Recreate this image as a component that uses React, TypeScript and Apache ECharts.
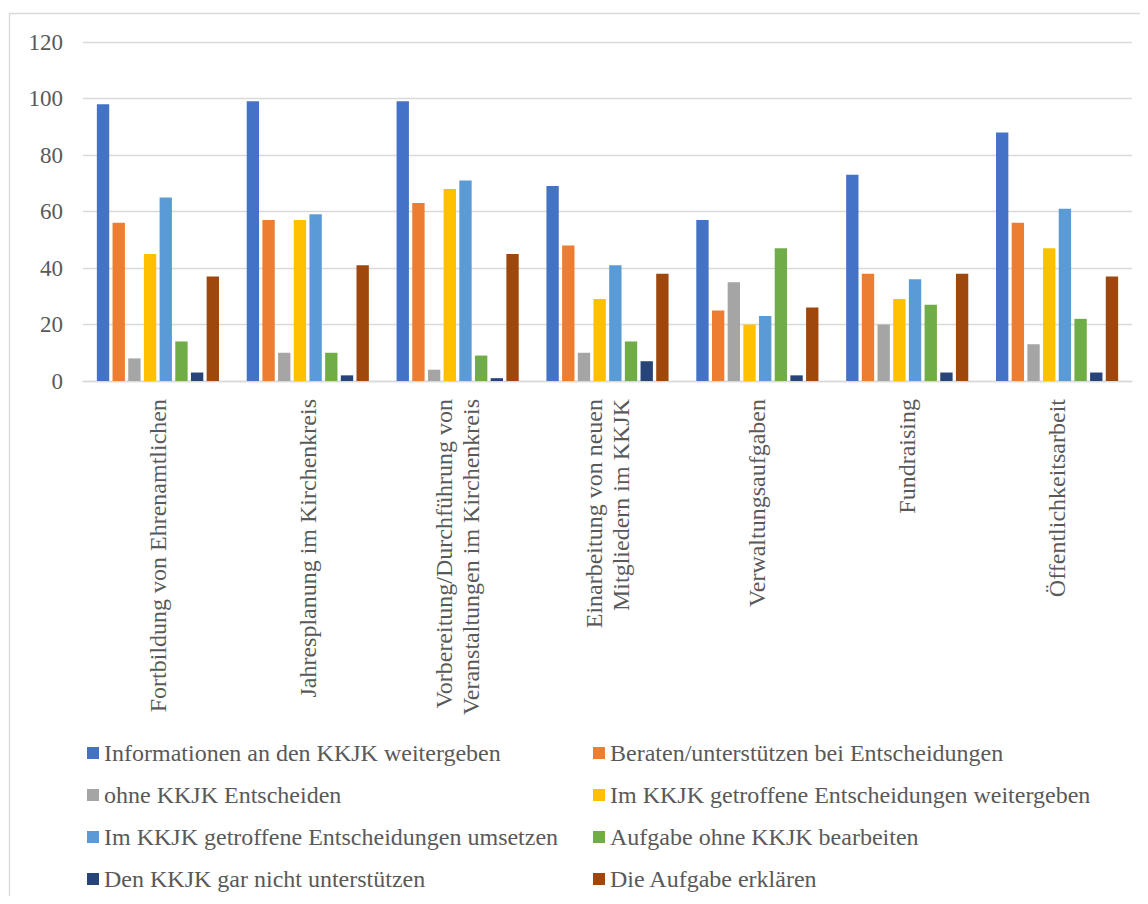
import React, { useEffect, useRef } from "react";
import * as echarts from "echarts";

// Task categories shown along the x axis
const categories: string[] = [
  "Fortbildung von Ehrenamtlichen",
  "Jahresplanung im Kirchenkreis",
  "Vorbereitung/Durchführung von\nVeranstaltungen im Kirchenkreis",
  "Einarbeitung von neuen\nMitgliedern im KKJK",
  "Verwaltungsaufgaben",
  "Fundraising",
  "Öffentlichkeitsarbeit",
];

// Series names (legend order)
const seriesNames: string[] = [
  "Informationen an den KKJK weitergeben",
  "Beraten/unterstützen bei Entscheidungen",
  "ohne KKJK Entscheiden",
  "Im KKJK getroffene Entscheidungen weitergeben",
  "Im KKJK getroffene Entscheidungen umsetzen",
  "Aufgabe ohne KKJK bearbeiten",
  "Den KKJK gar nicht unterstützen",
  "Die Aufgabe erklären",
];

// Values per series, one entry per category
const informationen: number[] = [98, 99, 99, 69, 57, 73, 88];
const beraten: number[] = [56, 57, 63, 48, 25, 38, 56];
const ohneEntscheiden: number[] = [8, 10, 4, 10, 35, 20, 13];
const weitergeben: number[] = [45, 57, 68, 29, 20, 29, 47];
const umsetzen: number[] = [65, 59, 71, 41, 23, 36, 61];
const ohneBearbeiten: number[] = [14, 10, 9, 14, 47, 27, 22];
const garNicht: number[] = [3, 2, 1, 7, 2, 3, 3];
const erklaeren: number[] = [37, 41, 45, 38, 26, 38, 37];

const seriesValues: number[][] = [
  informationen,
  beraten,
  ohneEntscheiden,
  weitergeben,
  umsetzen,
  ohneBearbeiten,
  garNicht,
  erklaeren,
];

// Y axis range
const yMin = 0;
const yMax = 120;
const yStep = 20;

const colors = [
  "#4472C4",
  "#ED7D31",
  "#A5A5A5",
  "#FFC000",
  "#5B9BD5",
  "#70AD47",
  "#264478",
  "#9E480E",
];

const FONT = "'Liberation Serif', 'Times New Roman', serif";
const TEXT_COLOR = "#595959";
const GRID_COLOR = "#d9d9d9";

export default function App() {
  const ref = useRef<HTMLDivElement>(null);

  useEffect(() => {
    if (!ref.current) return;
    const chart = echarts.init(ref.current, undefined, { renderer: "svg" });

    const legendText = {
      fontFamily: FONT,
      fontSize: 24,
      color: TEXT_COLOR,
      lineHeight: 24,
    };

    const legendCommon = {
      orient: "vertical",
      top: 733,
      height: 200,
      padding: 0,
      itemWidth: 12,
      itemHeight: 12,
      itemGap: 18,
      icon: "rect",
      textStyle: legendText,
    };

    chart.setOption({
      animation: false,
      color: colors,
      textStyle: { fontFamily: FONT },
      graphic: [
        {
          type: "rect",
          shape: { x: 1.5, y: 5.5, width: 2000, height: 2000 },
          style: { fill: "none", stroke: GRID_COLOR, lineWidth: 1.3 },
          silent: true,
        },
      ],
      grid: {
        left: 75,
        top: 34,
        width: 1049,
        height: 339,
        containLabel: false,
      },
      legend: [
        {
          ...legendCommon,
          left: 79,
          data: [seriesNames[0], seriesNames[2], seriesNames[4], seriesNames[6]],
        },
        {
          ...legendCommon,
          left: 585,
          data: [seriesNames[1], seriesNames[3], seriesNames[5], seriesNames[7]],
        },
      ],
      xAxis: {
        type: "category",
        data: categories,
        axisLine: { show: true, lineStyle: { color: GRID_COLOR, width: 1.3 } },
        axisTick: { show: false },
        axisLabel: {
          interval: 0,
          rotate: 90,
          margin: 18,
          fontFamily: FONT,
          fontSize: 24,
          lineHeight: 27,
          color: TEXT_COLOR,
        },
      },
      yAxis: {
        type: "value",
        min: yMin,
        max: yMax,
        interval: yStep,
        axisLine: { show: false },
        axisTick: { show: false },
        splitLine: { lineStyle: { color: GRID_COLOR, width: 1.3 } },
        axisLabel: {
          margin: 20,
          fontFamily: FONT,
          fontSize: 23,
          color: TEXT_COLOR,
        },
      },
      series: seriesNames.map((name, i) => ({
        name,
        type: "bar",
        data: seriesValues[i],
        barGap: "27%",
        barCategoryGap: "18.5%",
        itemStyle: { color: colors[i] },
      })),
    });

    return () => chart.dispose();
  }, []);

  return <div ref={ref} style={{ width: 1132, height: 888 }} />;
}
